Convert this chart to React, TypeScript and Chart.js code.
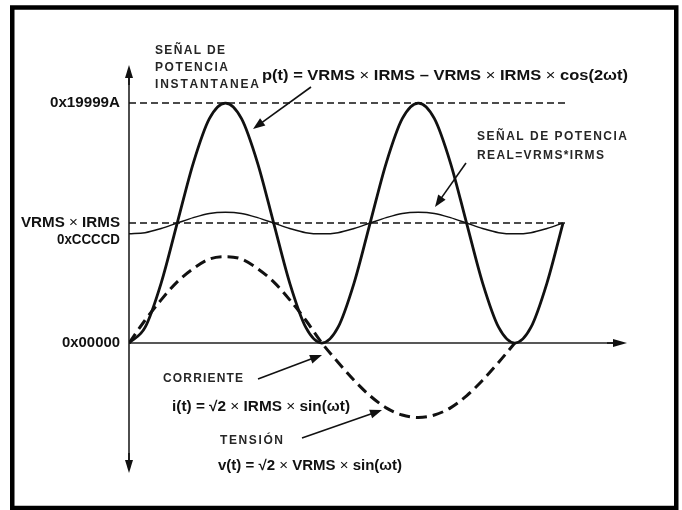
import { useEffect, useRef } from "react";
import { Chart, registerables } from "chart.js";

Chart.register(...registerables);

// ωt in degrees
const angles = [0, 15, 30, 45, 60, 75, 90, 105, 120, 135, 150, 165, 180, 195, 210, 225, 240, 255, 270, 285, 300, 315, 330, 345, 360, 375, 390, 405];
// p(t), in units of VRMS × IRMS
const instantPower = [0, 0.13, 0.5, 1, 1.5, 1.87, 2, 1.87, 1.5, 1, 0.5, 0.13, 0, 0.13, 0.5, 1, 1.5, 1.87, 2, 1.87, 1.5, 1, 0.5, 0.13, 0, 0.13, 0.5, 1];
// real power ripple curve
const realPower = [0.91, 0.92, 0.955, 1, 1.045, 1.08, 1.09, 1.08, 1.045, 1, 0.955, 0.92, 0.91, 0.92, 0.955, 1, 1.045, 1.08, 1.09, 1.08, 1.045, 1, 0.955, 0.92, 0.91, 0.92, 0.955, 1];
// current / voltage sine (dashed)
const sineAngles = [0, 15, 30, 45, 60, 75, 90, 105, 120, 135, 150, 165, 180, 195, 210, 225, 240, 255, 270, 285, 300, 315, 330, 345, 360];
const currentVoltage = [0, 0.19, 0.36, 0.51, 0.62, 0.7, 0.72, 0.7, 0.62, 0.51, 0.36, 0.19, 0, -0.16, -0.31, -0.44, -0.54, -0.6, -0.62, -0.6, -0.54, -0.44, -0.31, -0.16, 0];
// reference dashed levels
const refLevels = [2, 1];
const refLineStart = 0;
const refLineEnd = 408;
// y tick labels
const yTickValues = [2, 1, 0];
const yTickLabels = [["0x19999A"], ["VRMS × IRMS", "0xCCCCD"], ["0x00000"]];

const FONT = '"Liberation Sans", Arial, sans-serif';

type Run = { t: string; w?: string };

function fitRuns(ctx: CanvasRenderingContext2D, runs: Run[], x: number, y: number, width: number, size: number, align: "left" | "right" = "left", color = "#111") {
  let natural = 0;
  for (const r of runs) {
    ctx.font = `${r.w || "bold"} ${size}px ${FONT}`;
    natural += ctx.measureText(r.t).width;
  }
  const sx = width / natural;
  ctx.save();
  ctx.translate(align === "right" ? x - width : x, y);
  ctx.scale(sx, 1);
  ctx.textBaseline = "middle";
  ctx.textAlign = "left";
  ctx.fillStyle = color;
  let cx = 0;
  for (const r of runs) {
    ctx.font = `${r.w || "bold"} ${size}px ${FONT}`;
    ctx.fillText(r.t, cx, 0);
    cx += ctx.measureText(r.t).width;
  }
  ctx.restore();
}

function spacedText(ctx: CanvasRenderingContext2D, text: string, x: number, y: number, width: number, size: number, color = "#262626") {
  ctx.save();
  ctx.font = `bold ${size}px ${FONT}`;
  ctx.textBaseline = "middle";
  ctx.textAlign = "left";
  ctx.fillStyle = color;
  const chars = Array.from(text);
  const ws = chars.map((c) => ctx.measureText(c).width);
  const natural = ws.reduce((a, b) => a + b, 0);
  const sp = chars.length > 1 ? (width - natural) / (chars.length - 1) : 0;
  let cx = x;
  chars.forEach((c, i) => {
    ctx.fillText(c, cx, y);
    cx += ws[i] + sp;
  });
  ctx.restore();
}

function arrow(ctx: CanvasRenderingContext2D, x1: number, y1: number, x2: number, y2: number, len = 11, half = 4, lw = 1.6) {
  const a = Math.atan2(y2 - y1, x2 - x1);
  ctx.save();
  ctx.strokeStyle = "#111";
  ctx.fillStyle = "#111";
  ctx.lineWidth = lw;
  ctx.beginPath();
  ctx.moveTo(x1, y1);
  ctx.lineTo(x2 - Math.cos(a) * len * 0.8, y2 - Math.sin(a) * len * 0.8);
  ctx.stroke();
  ctx.beginPath();
  ctx.moveTo(x2, y2);
  ctx.lineTo(x2 - Math.cos(a) * len - Math.sin(a) * half, y2 - Math.sin(a) * len + Math.cos(a) * half);
  ctx.lineTo(x2 - Math.cos(a) * len + Math.sin(a) * half, y2 - Math.sin(a) * len - Math.cos(a) * half);
  ctx.closePath();
  ctx.fill();
  ctx.restore();
}

const diagramPlugin = {
  id: "diagram",
  beforeDraw(chart: any) {
    const ctx: CanvasRenderingContext2D = chart.ctx;
    ctx.save();
    ctx.fillStyle = "#fff";
    ctx.fillRect(0, 0, chart.width, chart.height);
    ctx.strokeStyle = "#000";
    ctx.lineWidth = 4.5;
    ctx.strokeRect(12.25, 7.5, 664, 500.5);
    ctx.restore();
  },
  beforeDatasetsDraw(chart: any) {
    const ctx: CanvasRenderingContext2D = chart.ctx;
    const { left, right, top, bottom } = chart.chartArea;
    const xs = chart.scales.x;
    const ys = chart.scales.y;
    const ax = xs.getPixelForValue(0);
    const ay = ys.getPixelForValue(0);
    ctx.save();
    ctx.strokeStyle = "#222";
    ctx.lineWidth = 1.6;
    ctx.beginPath();
    ctx.moveTo(ax, top + 6);
    ctx.lineTo(ax, bottom - 6);
    ctx.moveTo(left, ay);
    ctx.lineTo(right - 6, ay);
    ctx.stroke();
    ctx.restore();
    arrow(ctx, ax, top + 20, ax, top, 13, 4);
    arrow(ctx, ax, bottom - 20, ax, bottom, 13, 4);
    arrow(ctx, right - 20, ay, right, ay, 14, 4);

    // y tick labels
    const widths = [[70], [99, 63], [58]];
    yTickValues.forEach((v, i) => {
      const py = ys.getPixelForValue(v);
      yTickLabels[i].forEach((lab, j) => {
        const runs: Run[] = lab.includes("×")
          ? [{ t: "VRMS " }, { t: "×", w: "normal" }, { t: " IRMS" }]
          : [{ t: lab }];
        fitRuns(ctx, runs, 120, py + j * 17, widths[i][j], 14.5, "right");
      });
    });
  },
  afterDatasetsDraw(chart: any) {
    const ctx: CanvasRenderingContext2D = chart.ctx;
    const S = 12;
    // instantaneous power label
    spacedText(ctx, "SEÑAL DE", 155, 51, 70, S);
    spacedText(ctx, "POTENCIA", 155, 68, 73, S);
    spacedText(ctx, "INSTANTANEA", 155, 85, 104, S);
    fitRuns(ctx, [
      { t: "p(t) = VRMS " }, { t: "×", w: "normal" }, { t: " IRMS – VRMS " }, { t: "×", w: "normal" },
      { t: " IRMS " }, { t: "×", w: "normal" }, { t: " cos(2ωt)" },
    ], 262, 76, 366, 15.5);
    arrow(ctx, 311, 87, 253, 129, 12, 4.5);

    // real power label
    spacedText(ctx, "SEÑAL DE POTENCIA", 477, 137, 150, S);
    spacedText(ctx, "REAL=VRMS*IRMS", 477, 156, 127, S);
    arrow(ctx, 466, 163, 435, 207, 12, 4.5);

    // current
    spacedText(ctx, "CORRIENTE", 163, 379, 80, S);
    arrow(ctx, 258, 379, 322, 355, 12, 4.5);
    fitRuns(ctx, [
      { t: "i(t) = √2 " }, { t: "×", w: "normal" }, { t: " IRMS " }, { t: "×", w: "normal" }, { t: " sin(ωt)" },
    ], 172, 407, 178, 14.5);

    // voltage
    spacedText(ctx, "TENSIÓN", 220, 441, 63, S);
    arrow(ctx, 302, 438, 382, 410, 12, 4.5);
    fitRuns(ctx, [
      { t: "v(t) = √2 " }, { t: "×", w: "normal" }, { t: " VRMS " }, { t: "×", w: "normal" }, { t: " sin(ωt)" },
    ], 218, 466, 184, 14.5);
  },
};

export default function App() {
  const ref = useRef<HTMLCanvasElement | null>(null);
  useEffect(() => {
    if (!ref.current) return;
    const chart = new Chart(ref.current, {
      type: "line",
      data: {
        datasets: [
          ...refLevels.map((lv) => ({
            label: `ref ${lv}`,
            data: [{ x: refLineStart, y: lv }, { x: refLineEnd, y: lv }],
            borderColor: "#111",
            borderWidth: 1.5,
            borderDash: [7, 4],
            pointRadius: 0,
          })),
          {
            label: "real",
            data: angles.map((a, i) => ({ x: a, y: realPower[i] })),
            borderColor: "#111",
            borderWidth: 1.5,
            pointRadius: 0,
            cubicInterpolationMode: "monotone" as const,
          },
          {
            label: "i/v",
            data: sineAngles.map((a, i) => ({ x: a, y: currentVoltage[i] })),
            borderColor: "#111",
            borderWidth: 3,
            borderDash: [11, 6],
            pointRadius: 0,
            cubicInterpolationMode: "monotone" as const,
          },
          {
            label: "p",
            data: angles.map((a, i) => ({ x: a, y: instantPower[i] })),
            borderColor: "#111",
            borderWidth: 2.8,
            pointRadius: 0,
            cubicInterpolationMode: "monotone" as const,
          },
        ],
      },
      options: {
        animation: false,
        responsive: false,
        devicePixelRatio: 1,
        layout: { padding: { left: 129, right: 55, top: 65, bottom: 37 } },
        plugins: { legend: { display: false }, tooltip: { enabled: false } },
        scales: {
          x: { type: "linear", min: 0, max: 464.7, display: false },
          y: { type: "linear", min: -1.083, max: 2.317, display: false },
        },
      },
      plugins: [diagramPlugin],
    });
    return () => chart.destroy();
  }, []);
  return (
    <div style={{ position: "absolute", left: 0, top: 0, width: 682, height: 510 }}>
      <canvas ref={ref} width={682} height={510} style={{ display: "block" }} />
    </div>
  );
}
